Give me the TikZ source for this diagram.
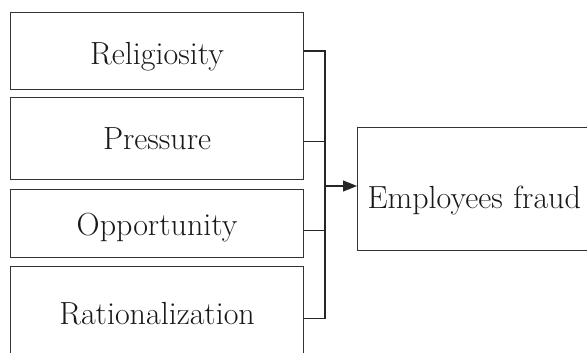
\documentclass[tikz,border=0pt]{standalone}
\usetikzlibrary{arrows.meta}
\begin{document}
\begin{tikzpicture}[x=1pt,y=-1pt,
  line width=1.1pt,
  factor/.style={draw=black!80, rectangle, anchor=north west, inner xsep=0pt, inner ysep=0pt,
    minimum width=293pt, font=\fontsize{32}{38}\selectfont, text=black!90},
  outcome/.style={draw=black!80, rectangle, anchor=north west, inner xsep=10pt, inner ysep=0pt,
    text width=260pt, align=left, font=\fontsize{32}{38}\selectfont, text=black!90},
  conn/.style={draw=black!85},
  arr/.style={draw=black!85, -{Triangle[length=14pt,width=11pt]}}]
\useasboundingbox (0,0) rectangle (587,353);
\clip (0,0) rectangle (587,353);

% factor boxes on the left
\node[factor, text height=52pt, text depth=25pt] (b1) at (10,12) {Religiosity};
\node[factor, text height=52pt, text depth=30pt] (b2) at (10,97) {Pressure};
\node[factor, text height=46pt, text depth=22pt] (b3) at (10,189) {Opportunity};
\node[factor, text height=58pt, text depth=40pt] (b4) at (10,266) {Rationalization};

% outcome box on the right
\node[outcome, text height=81pt, text depth=42pt] (out) at (357,127) {Employees fraud};

% collecting bus and arrow
\coordinate (j) at (325,186);
\draw[conn] (b1.east) -| (j);
\draw[conn] ([yshift=-3pt]b2.east) -- ([yshift=-3pt]b2.east -| j);
\draw[conn] ([yshift=-7pt]b3.east) -- ([yshift=-7pt]b3.east -| j);
\draw[conn] ([yshift=-3pt]b4.east) -| (j);
\draw[arr] (j) -- (out.west |- j);
\end{tikzpicture}
\end{document}
